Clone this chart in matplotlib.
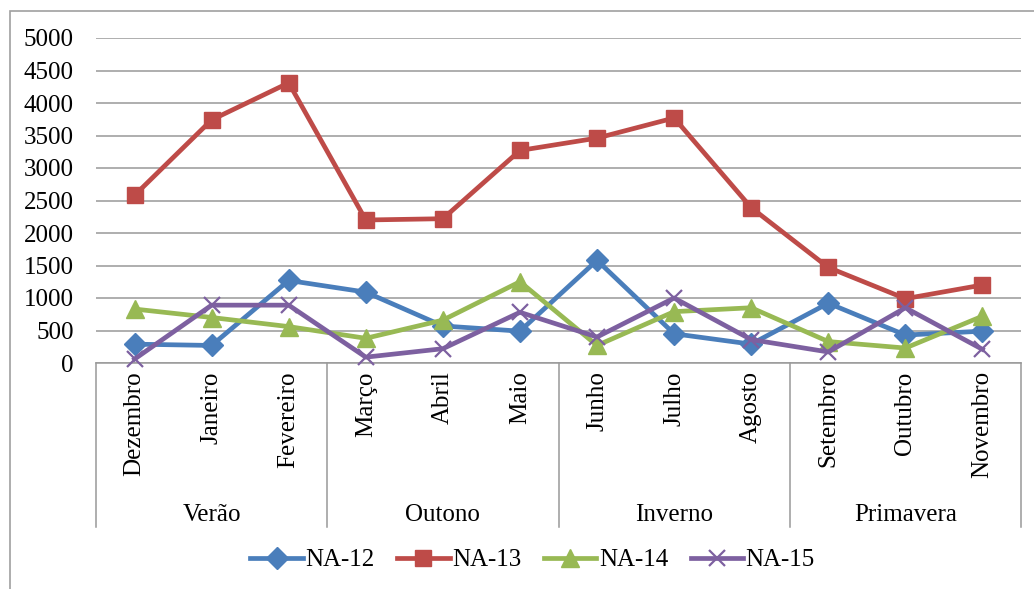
import numpy as np
import matplotlib
matplotlib.use('Agg')
import matplotlib.pyplot as plt
import matplotlib.transforms as mtransforms
from matplotlib.patches import Rectangle

# monthly values per station
meses = ['Dezembro', 'Janeiro', 'Fevereiro', 'Março', 'Abril', 'Maio',
         'Junho', 'Julho', 'Agosto', 'Setembro', 'Outubro', 'Novembro']
estacoes = ['Verão', 'Outono', 'Inverno', 'Primavera']

na12 = [290, 270, 1270, 1090, 570, 490, 1580, 450, 290, 920, 430, 490]
na13 = [2580, 3740, 4310, 2200, 2220, 3270, 3460, 3770, 2390, 1470, 990, 1200]
na14 = [830, 700, 560, 380, 660, 1250, 270, 790, 850, 330, 230, 720]
na15 = [60, 890, 890, 90, 220, 780, 400, 1000, 360, 170, 850, 210]

series = [
    ('NA-12', na12, '#4a7ebb', 'D', 11.5),
    ('NA-13', na13, '#be4b48', 's', 12),
    ('NA-14', na14, '#98b954', '^', 12.5),
    ('NA-15', na15, '#7d60a0', 'x', 12),
]

plt.rcParams['font.family'] = ['Liberation Serif', 'DejaVu Serif']
plt.rcParams['font.size'] = 18

fig = plt.figure(figsize=(10.34, 5.89), dpi=100)
ax = fig.add_axes([96 / 1034, 1 - 363 / 589, 925 / 1034, 325 / 589])

# outer chart border
fig.patches.append(Rectangle((10 / 1034, -0.1), 1.2, 1.1 - 11 / 589,
                             transform=fig.transFigure, fill=False,
                             edgecolor='#a0a0a0', linewidth=1.2))

x = np.arange(len(meses))
for nome, vals, cor, mk, ms in series:
    ax.plot(x, vals, color=cor, linewidth=3.4, marker=mk, markersize=ms,
            markeredgewidth=1.6 if mk == 'x' else 1, label=nome,
            clip_on=False, zorder=3)

ax.set_ylim(0, 5000)
ax.set_xlim(-0.5, 11.5)
ax.set_yticks(np.arange(0, 5001, 500))
ax.yaxis.grid(True, color='#999999', linewidth=1.1)
ax.set_axisbelow(True)
for s in ['top', 'right', 'left']:
    ax.spines[s].set_visible(False)
ax.spines['bottom'].set_color('#999999')
ax.spines['bottom'].set_linewidth(1.1)
ax.tick_params(axis='y', length=0, pad=16)
ax.tick_params(axis='x', length=0, pad=6)
ax.set_xticks(x)
ax.set_xticklabels(meses, rotation=90, va='top')

# season groups below the month labels
trans = mtransforms.blended_transform_factory(ax.transData, ax.transAxes)
for b in [-0.5, 2.5, 5.5, 8.5, 11.5]:
    ax.plot([b, b], [0, -0.505], transform=trans, color='#999999',
            linewidth=1.1, clip_on=False)
for i, est in enumerate(estacoes):
    ax.text(3 * i + 1, -0.468, est, transform=trans, ha='center', va='center')

fig.legend(loc='center', bbox_to_anchor=(0.515, 1 - 560 / 589), ncol=4,
           frameon=False, handlelength=2.1, handletextpad=0.1,
           columnspacing=0.9, fontsize=18)

fig.savefig('out.png', dpi=100)
